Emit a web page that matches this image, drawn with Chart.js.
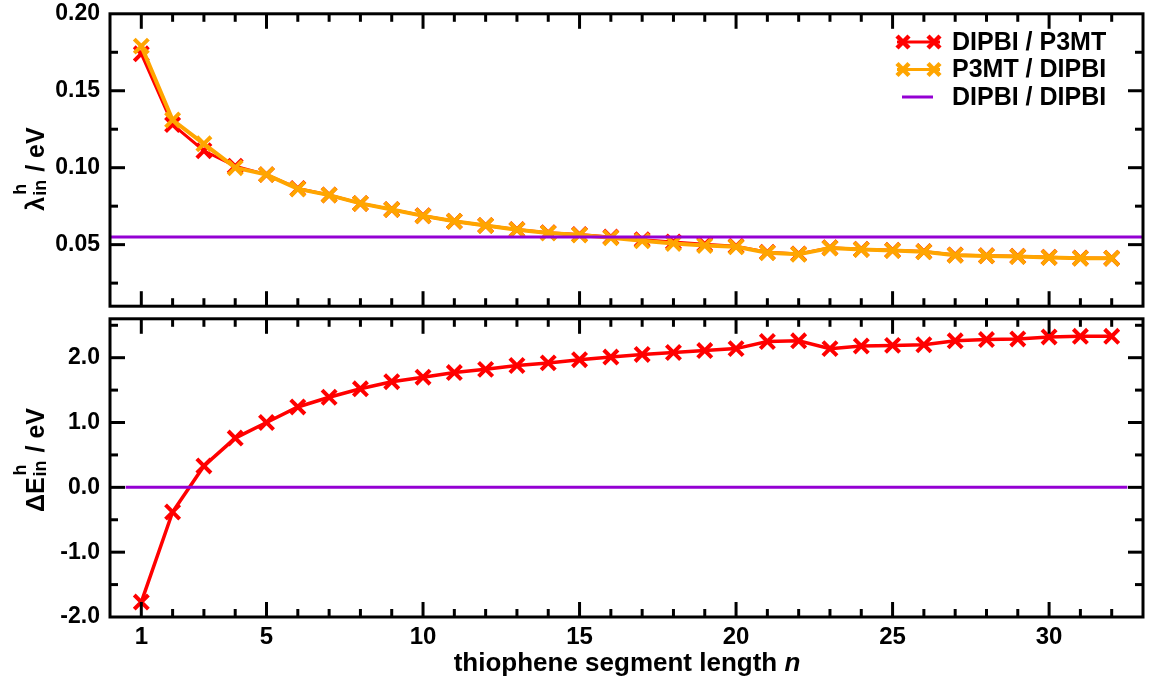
<!DOCTYPE html>
<html>
<head>
<meta charset="utf-8">
<script src="https://cdn.jsdelivr.net/npm/chart.js@4.4.1/dist/chart.umd.min.js"></script>
<style>
html, body { margin:0; padding:0; background:#ffffff; }
body { width:1157px; height:682px; position:relative; overflow:hidden; }
#wrap_top { position:absolute; left:0; top:-10px; width:1157px; height:340px; }
#wrap_bottom { position:absolute; left:0; top:295px; width:1157px; height:387px; }
</style>
</head>
<body>
<div id="wrap_top"><canvas id="lambda_chart"></canvas></div>
<div id="wrap_bottom"><canvas id="energy_chart"></canvas></div>
<script>
// internal reorganisation energy and energy offset vs thiophene segment length

const nVals = [1,2,3,4,5,6,7,8,9,10,11,12,13,14,15,16,17,18,19,20,21,22,23,24,25,26,27,28,29,30,31,32] ;
const xMajor = [1,5,10,15,20,25,30] ;

const seriesNames = ['DIPBI / P3MT','P3MT / DIPBI','DIPBI / DIPBI'] ;
const colors = ['#ff0000','#ffa500','#9400d3'] ;

// lambda_in^h / eV
const lamDipbiP3mt = [0.174,0.128,0.111,0.101,0.0955,0.0865,0.0823,0.0768,0.0729,0.0688,0.0652,0.0625,0.0598,0.0578,0.0566,0.0549,0.0532,0.0517,0.0502,0.0490,0.0450,0.0440,0.0480,0.0470,0.0463,0.0455,0.0433,0.0428,0.0424,0.0418,0.0413,0.0412] ;
const lamP3mtDipbi = [0.179,0.131,0.1155,0.100,0.0955,0.0862,0.0822,0.0768,0.0728,0.0687,0.0652,0.0624,0.0597,0.0576,0.0563,0.0545,0.0525,0.0508,0.0495,0.0486,0.0448,0.0437,0.0478,0.0469,0.0462,0.0454,0.0431,0.0427,0.0423,0.0417,0.0412,0.0411] ;
const lamDipbiDipbi = 0.055 ;
const lamRefRange = [0,33] ;

// Delta E_in^h / eV
const dEDipbiP3mt = [-1.77,-0.38,0.33,0.76,1.00,1.24,1.39,1.52,1.63,1.70,1.77,1.82,1.88,1.92,1.97,2.01,2.05,2.08,2.11,2.14,2.25,2.26,2.14,2.18,2.19,2.20,2.26,2.28,2.29,2.32,2.33,2.33] ;
const dEDipbiDipbi = 0.0 ;
const dERefRange = [0.5,32.5] ;

const lamTicks = [0.025,0.05,0.075,0.10,0.125,0.15,0.175,0.20] ;
const dETicks = [-2.0,-1.5,-1.0,-0.5,0.0,0.5,1.0,1.5,2.0,2.5] ;

const FONT = '"Liberation Sans", Arial, Helvetica, sans-serif' ;

function xy(ys) {
    return ys.map((y,i) => ({x: nVals[i], y: y})) ;
}

function stroke(ctx, x1, y1, x2, y2) {
    ctx.beginPath() ;
    ctx.moveTo(x1, y1) ;
    ctx.lineTo(x2, y2) ;
    ctx.stroke() ;
}

// frame and inward ticks on all four sides
function drawFrame(chart) {
    const ctx = chart.ctx ;
    const a = chart.chartArea ;
    const xs = chart.scales.x ;
    const ys = chart.scales.y ;
    ctx.save() ;
    ctx.strokeStyle = '#000' ;
    ctx.lineWidth = 3 ;
    ctx.lineCap = 'butt' ;
    nVals.forEach(n => {
        const px = xs.getPixelForValue(n) ;
        const len = xMajor.includes(n) ? 15 : 8 ;
        stroke(ctx, px, a.top, px, a.top + len) ;
        stroke(ctx, px, a.bottom, px, a.bottom - len) ;
    }) ;
    ys.ticks.forEach(t => {
        const py = ys.getPixelForValue(t.value) ;
        if (py <= a.top + 1 || py >= a.bottom - 1) return ;
        const len = t.label !== '' ? 15 : 8 ;
        stroke(ctx, a.left, py, a.left + len, py) ;
        stroke(ctx, a.right, py, a.right - len, py) ;
    }) ;
    ctx.strokeRect(a.left, a.top, a.right - a.left, a.bottom - a.top) ;
    ctx.restore() ;
}

// rotated y title with super/subscript
function drawYTitle(ctx, main, cx, cy) {
    const big = 'bold 25px ' + FONT ;
    const small = 'bold 18px ' + FONT ;
    ctx.save() ;
    ctx.font = big ;
    const w1 = ctx.measureText(main).width ;
    const w3 = ctx.measureText(' / eV').width ;
    ctx.font = small ;
    const w2 = Math.max(ctx.measureText('h').width, ctx.measureText('in').width) + 2 ;
    let x = -(w1 + w2 + w3) / 2 ;
    ctx.translate(cx, cy) ;
    ctx.rotate(-Math.PI / 2) ;
    ctx.fillStyle = '#000' ;
    ctx.textAlign = 'left' ;
    ctx.textBaseline = 'alphabetic' ;
    ctx.font = big ;
    ctx.fillText(main, x, 0) ;
    x += w1 ;
    ctx.font = small ;
    ctx.fillText('h', x + 2, -18) ;
    ctx.fillText('in', x + 1, 2) ;
    x += w2 ;
    ctx.font = big ;
    ctx.fillText(' / eV', x, 0) ;
    ctx.restore() ;
}

function drawCross(ctx, x, y, r) {
    stroke(ctx, x - r, y - r, x + r, y + r) ;
    stroke(ctx, x - r, y + r, x + r, y - r) ;
}

const topPlugin = {
    id: 'topDecor',
    afterDraw(chart) {
        const ctx = chart.ctx ;
        drawFrame(chart) ;
        drawYTitle(ctx, '\u03bb', 44, 179) ;
        // legend
        ctx.save() ;
        ctx.font = 'bold 25px ' + FONT ;
        ctx.textBaseline = 'middle' ;
        ctx.fillStyle = '#000' ;
        for (let i = 0; i < 3; i++) {
            const y = 52 + i * 27.5 ;
            ctx.strokeStyle = colors[i] ;
            ctx.lineWidth = 3 ;
            if (i < 2) {
                stroke(ctx, 897, y, 940, y) ;
                ctx.lineWidth = 4.5 ;
                drawCross(ctx, 903, y, 6) ;
                drawCross(ctx, 934, y, 6) ;
            } else {
                stroke(ctx, 902, y, 933, y) ;
            }
            ctx.fillText(seriesNames[i], 952, y + 1) ;
        }
        ctx.restore() ;
    }
} ;

const bottomPlugin = {
    id: 'bottomDecor',
    afterDraw(chart) {
        const ctx = chart.ctx ;
        drawFrame(chart) ;
        drawYTitle(ctx, '\u0394E', 44, 165) ;
        // x title with italic n
        ctx.save() ;
        const t1 = 'thiophene segment length ' ;
        ctx.font = 'bold 26px ' + FONT ;
        const w1 = ctx.measureText(t1).width ;
        ctx.font = 'italic bold 26px ' + FONT ;
        const w2 = ctx.measureText('n').width ;
        let x = 627 - (w1 + w2) / 2 ;
        ctx.fillStyle = '#000' ;
        ctx.textAlign = 'left' ;
        ctx.textBaseline = 'alphabetic' ;
        ctx.font = 'bold 26px ' + FONT ;
        ctx.fillText(t1, x, 376) ;
        ctx.font = 'italic bold 26px ' + FONT ;
        ctx.fillText('n', x + w1, 376) ;
        ctx.restore() ;
    }
} ;

function yAxis(min, max, tickVals, fmt) {
    return {
        type: 'linear',
        min: min,
        max: max,
        afterBuildTicks: (scale) => {
            scale.ticks = tickVals.map(v => ({value: v})) ;
        },
        afterFit: (scale) => { scale.width = 110 ; },
        grid: { display: false, drawTicks: false },
        border: { display: false },
        ticks: {
            padding: 10,
            color: '#000',
            font: { family: FONT, size: 23, weight: 'bold' },
            callback: fmt
        }
    } ;
}

function seriesStyle(i, width) {
    return {
        borderColor: colors[i],
        backgroundColor: colors[i],
        borderWidth: width,
        pointStyle: 'crossRot',
        pointRadius: 10,
        pointBorderWidth: 4,
        pointHoverRadius: 10,
        tension: 0,
        fill: false
    } ;
}

let lambda_chart = new Chart(document.getElementById('lambda_chart').getContext('2d'), {
    type: 'line',
    data: {
        datasets: [
            Object.assign({ label: seriesNames[2], data: lamRefRange.map(x => ({x: x, y: lamDipbiDipbi})) }, seriesStyle(2, 3), { pointRadius: 0 }),
            Object.assign({ label: seriesNames[1], data: xy(lamP3mtDipbi) }, seriesStyle(1, 4)),
            Object.assign({ label: seriesNames[0], data: xy(lamDipbiP3mt) }, seriesStyle(0, 3))
        ]
    },
    options: {
        responsive: true,
        maintainAspectRatio: false,
        animation: false,
        layout: { padding: { top: 20, bottom: 17, left: 0, right: 7.5 } },
        scales: {
            x: { type: 'linear', min: 0, max: 33, display: false },
            y: yAxis(0.01, 0.20, lamTicks, function (value) {
                const k = value / 0.05 ;
                return Math.abs(k - Math.round(k)) < 1e-6 ? value.toFixed(2) : '' ;
            })
        },
        plugins: { legend: { display: false }, tooltip: { enabled: false } }
    },
    plugins: [topPlugin]
}) ;

let energy_chart = new Chart(document.getElementById('energy_chart').getContext('2d'), {
    type: 'line',
    data: {
        datasets: [
            Object.assign({ label: seriesNames[2], data: dERefRange.map(x => ({x: x, y: dEDipbiDipbi})) }, seriesStyle(2, 3), { pointRadius: 0 }),
            Object.assign({ label: seriesNames[0], data: xy(dEDipbiP3mt) }, seriesStyle(0, 3.5))
        ]
    },
    options: {
        responsive: true,
        maintainAspectRatio: false,
        animation: false,
        layout: { padding: { top: 18, bottom: 0, left: 0, right: 7.5 } },
        scales: {
            x: {
                type: 'linear',
                min: 0,
                max: 33,
                afterBuildTicks: (scale) => {
                    scale.ticks = xMajor.map(v => ({value: v})) ;
                },
                afterFit: (scale) => { scale.height = 65 ; },
                grid: { display: false, drawTicks: false },
                border: { display: false },
                ticks: {
                    autoSkip: false,
                    maxRotation: 0,
                    padding: 6,
                    color: '#000',
                    font: { family: FONT, size: 24, weight: 'bold' },
                    callback: (value) => String(value)
                }
            },
            y: yAxis(-2.0, 2.6, dETicks, function (value) {
                return Math.abs(value - Math.round(value)) < 1e-6 ? value.toFixed(1) : '' ;
            })
        },
        plugins: { legend: { display: false }, tooltip: { enabled: false } }
    },
    plugins: [bottomPlugin]
}) ;
</script>
</body>
</html>
